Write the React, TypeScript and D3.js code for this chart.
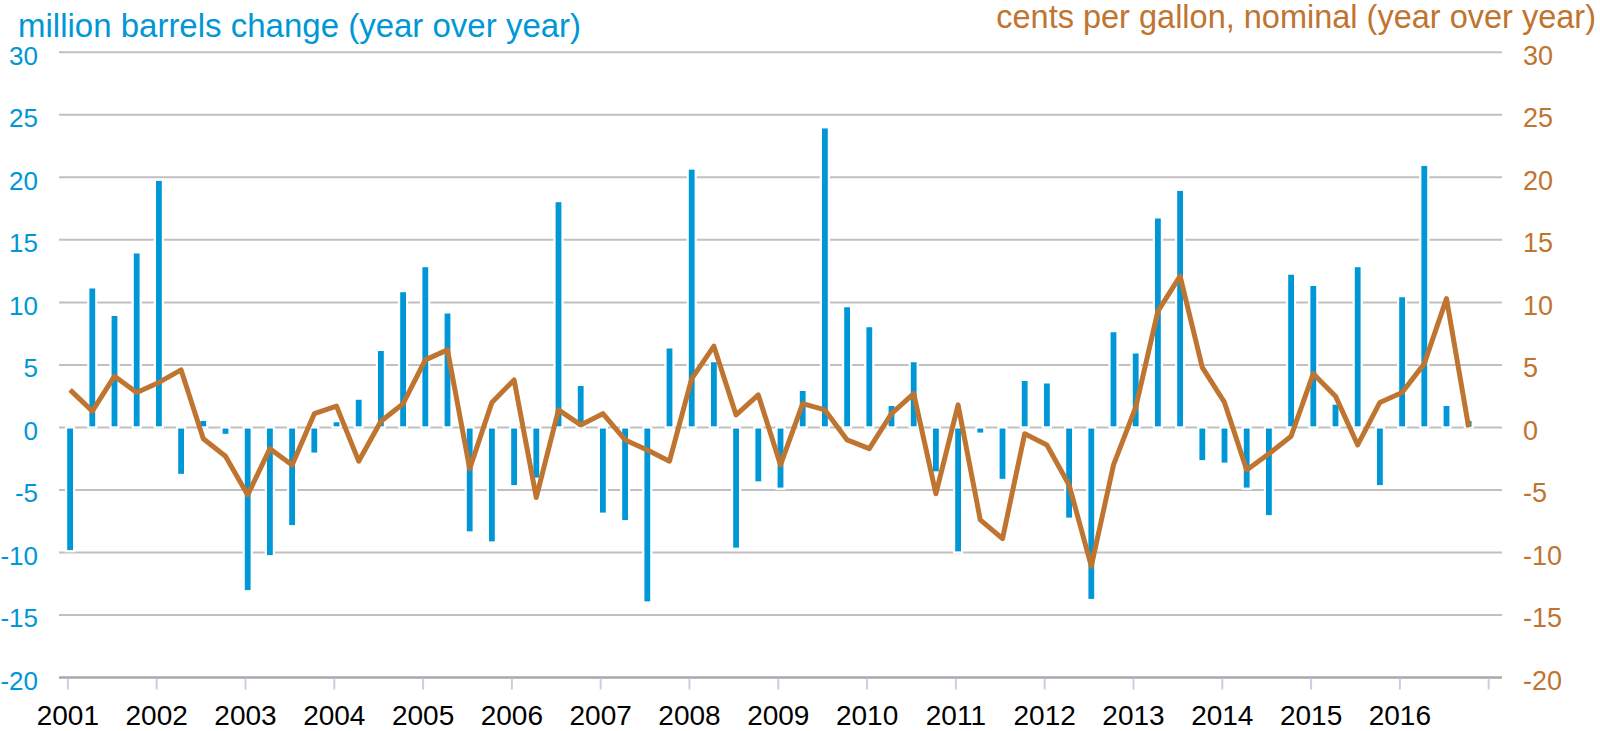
import * as d3 from 'd3';
import React, { useEffect, useRef } from 'react';

// quarterly, 2001 Q1 .. 2016 Q4
const years = d3.range(2001, 2017);
const quartersPerYear = 4;

// inventory change, million barrels (year over year) - bars, left axis
const inventoryChange = [
  -9.9, 11.2, 9.0, 14.0,
  19.8, -3.8, 0.6, -0.6,
  -13.1, -10.3, -7.9, -2.1,
  0.5, 2.3, 6.2, 10.9,
  12.9, 9.2, -8.4, -9.2,
  -4.7, -4.1, 18.1, 3.4,
  -6.9, -7.5, -14.0, 6.4,
  20.7, 5.3, -9.7, -4.4,
  -4.9, 3.0, 24.0, 9.7,
  8.1, 1.8, 5.3, -3.6,
  -10.0, -0.5, -4.2, 3.8,
  3.6, -7.3, -13.8, 7.7,
  6.0, 16.8, 19.0, -2.7,
  -2.9, -4.9, -7.1, 12.3,
  11.4, 1.9, 12.9, -4.7,
  10.5, 21.0, 1.8, 0.6,
];

// price change, cents per gallon nominal (year over year) - line, right axis
const priceChange = [
  3.0, 1.3, 4.1, 2.8,
  3.6, 4.6, -0.9, -2.3,
  -5.4, -1.7, -3.0, 1.1,
  1.7, -2.7, 0.5, 1.9,
  5.4, 6.2, -3.3, 2.0,
  3.8, -5.6, 1.4, 0.2,
  1.1, -1.0, -1.8, -2.7,
  3.9, 6.5, 1.0, 2.6,
  -3.0, 1.9, 1.4, -1.0,
  -1.7, 1.1, 2.7, -5.3,
  1.8, -7.4, -8.9, -0.5,
  -1.4, -4.6, -11.1, -3.0,
  1.6, 9.3, 12.1, 4.8,
  2.0, -3.4, -2.1, -0.7,
  4.3, 2.5, -1.4, 2.0,
  2.8, 5.1, 10.3, 0.0,
];

const leftTicks = [30, 25, 20, 15, 10, 5, 0, -5, -10, -15, -20];
const rightTicks = leftTicks;

const leftTitle = 'million barrels change (year over year)';
const rightTitle = 'cents per gallon, nominal (year over year)';

const BLUE = '#0097d7';
const ORANGE = '#bf7430';
const FONT = '"Liberation Sans", Arial, sans-serif';

function App() {
  const svgRef = useRef(null);

  useEffect(() => {
    const width = 1600;
    const height = 731;
    const plot = { left: 59, right: 1502, top: 52.3, bottom: 677.5 };

    const svg = d3.select(svgRef.current);
    svg.selectAll('*').remove();
    svg.attr('width', width).attr('height', height);

    const n = inventoryChange.length;
    const x = d3.scaleLinear().domain([-0.5, n + 0.5]).range([plot.left, plot.right]);
    const yLeft = d3.scaleLinear().domain([-20, 30]).range([plot.bottom, plot.top]);
    const yRight = d3.scaleLinear().domain([-20, 30]).range([plot.bottom, plot.top]);

    // gridlines
    svg.append('g')
      .selectAll('line')
      .data(leftTicks)
      .join('line')
      .attr('x1', plot.left)
      .attr('x2', plot.right)
      .attr('y1', d => yLeft(d))
      .attr('y2', d => yLeft(d))
      .attr('stroke', d => (d === -20 ? '#a8a8a8' : '#c0c0c0'))
      .attr('stroke-width', d => (d === -20 ? 2.5 : 2));

    // year ticks on the bottom axis (one per year boundary, plus the closing one)
    const yearStarts = d3.range(years.length + 1).map(k => k * quartersPerYear - 0.1);
    svg.append('g')
      .selectAll('line')
      .data(yearStarts)
      .join('line')
      .attr('x1', d => x(d))
      .attr('x2', d => x(d))
      .attr('y1', plot.bottom + 1)
      .attr('y2', plot.bottom + 12)
      .attr('stroke', '#c3d1e2')
      .attr('stroke-width', 2);

    svg.append('g')
      .selectAll('text')
      .data(years)
      .join('text')
      .attr('x', (d, k) => x(k * quartersPerYear - 0.1))
      .attr('y', 725)
      .attr('text-anchor', 'middle')
      .attr('font-family', FONT)
      .attr('font-size', 28)
      .attr('fill', '#000')
      .text(d => d);

    // bars
    svg.append('g')
      .selectAll('rect')
      .data(inventoryChange)
      .join('rect')
      .attr('x', (d, i) => x(i) - 4)
      .attr('width', 8)
      .attr('y', d => yLeft(Math.max(0, d)))
      .attr('height', d => Math.abs(yLeft(d) - yLeft(0)))
      .attr('fill', BLUE)
      .attr('stroke', '#fff')
      .attr('stroke-width', 2.2);

    // price line
    const line = d3.line()
      .x((d, i) => x(i))
      .y(d => yRight(d));

    svg.append('path')
      .datum(priceChange)
      .attr('fill', 'none')
      .attr('stroke', ORANGE)
      .attr('stroke-width', 5)
      .attr('stroke-linejoin', 'round')
      .attr('d', line);

    // left axis labels
    svg.append('g')
      .selectAll('text')
      .data(leftTicks)
      .join('text')
      .attr('x', 38)
      .attr('y', d => yLeft(d) + 12.5)
      .attr('text-anchor', 'end')
      .attr('font-family', FONT)
      .attr('font-size', 26)
      .attr('fill', BLUE)
      .text(d => d);

    // right axis labels
    svg.append('g')
      .selectAll('text')
      .data(rightTicks)
      .join('text')
      .attr('x', 1523)
      .attr('y', d => yRight(d) + 12.5)
      .attr('text-anchor', 'start')
      .attr('font-family', FONT)
      .attr('font-size', 27)
      .attr('fill', ORANGE)
      .text(d => d);

    // axis titles
    svg.append('text')
      .attr('x', 18)
      .attr('y', 37)
      .attr('font-family', FONT)
      .attr('font-size', 33)
      .attr('fill', BLUE)
      .text(leftTitle);

    svg.append('text')
      .attr('x', 1596)
      .attr('y', 28)
      .attr('text-anchor', 'end')
      .attr('font-family', FONT)
      .attr('font-size', 32.5)
      .attr('fill', ORANGE)
      .text(rightTitle);
  }, []);

  return (
    <svg
      ref={svgRef}
      style={{ position: 'absolute', left: 0, top: 0, background: '#fff', display: 'block' }}
    />
  );
}

export default App;
